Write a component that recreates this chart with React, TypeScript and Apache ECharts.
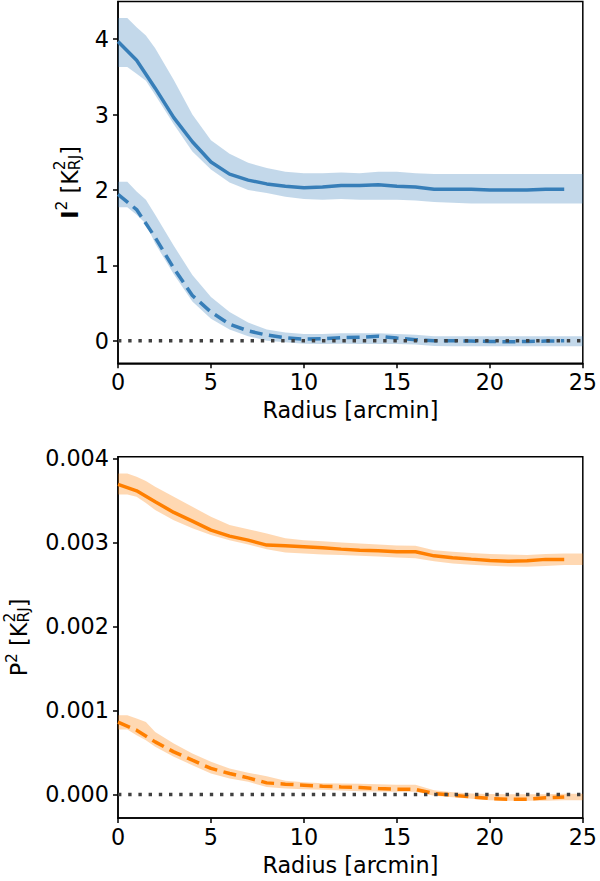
import React, { useEffect, useRef } from 'react';
import * as echarts from 'echarts';

// ---- data ----
const radius = [0, 1, 2, 3, 4, 5, 6, 7, 8, 9, 10, 11, 12, 13, 14, 15, 16, 17, 18, 19, 20, 21, 22, 23, 24];
const bandRadius = [0, 0.5, 1, 1.5, 2, 3, 4, 5, 6, 7, 8, 9, 10, 11, 12, 13, 14, 15, 16, 17, 18, 19, 20, 21, 22, 23, 24, 25];

const i2Total = [3.97, 3.72, 3.35, 2.96, 2.64, 2.37, 2.21, 2.13, 2.08, 2.05, 2.03, 2.04, 2.06, 2.06, 2.07, 2.05, 2.04, 2.01, 2.01, 2.01, 2.0, 2.0, 2.0, 2.01, 2.01];
const i2Dashed = [1.94, 1.74, 1.37, 0.96, 0.6, 0.38, 0.22, 0.13, 0.075, 0.04, 0.02, 0.025, 0.04, 0.045, 0.06, 0.035, 0.013, 0.0, 0.0, -0.005, -0.01, -0.015, -0.01, -0.005, 0.0];
const i2TotalHigh = [4.28, 4.28, 4.16, 4.05, 3.88, 3.46, 3.0, 2.66, 2.48, 2.36, 2.29, 2.24, 2.22, 2.22, 2.23, 2.22, 2.24, 2.24, 2.22, 2.21, 2.21, 2.21, 2.21, 2.21, 2.21, 2.21, 2.21, 2.21];
const i2TotalLow = [3.63, 3.63, 3.54, 3.45, 3.26, 2.87, 2.51, 2.27, 2.1, 2.0, 1.96, 1.91, 1.88, 1.87, 1.88, 1.87, 1.87, 1.87, 1.86, 1.84, 1.83, 1.82, 1.82, 1.82, 1.82, 1.82, 1.82, 1.82];
const i2DashedHigh = [2.11, 2.11, 1.98, 1.87, 1.67, 1.26, 0.87, 0.58, 0.38, 0.24, 0.15, 0.11, 0.09, 0.09, 0.1, 0.1, 0.1, 0.09, 0.08, 0.06, 0.06, 0.06, 0.06, 0.06, 0.06, 0.06, 0.06, 0.06];
const i2DashedLow = [1.77, 1.77, 1.67, 1.55, 1.29, 0.88, 0.52, 0.29, 0.15, 0.06, 0.0, -0.02, -0.04, -0.045, -0.04, -0.045, -0.045, -0.045, -0.05, -0.07, -0.075, -0.075, -0.075, -0.075, -0.075, -0.075, -0.075, -0.075];

const p2Total = [0.00369, 0.003614, 0.003483, 0.003357, 0.003254, 0.003146, 0.003075, 0.003027, 0.002968, 0.00296, 0.002948, 0.002936, 0.00292, 0.002908, 0.0029, 0.002888, 0.002888, 0.00284, 0.002817, 0.002801, 0.002786, 0.002777, 0.002781, 0.002798, 0.002798];
const p2Dashed = [0.000861, 0.000765, 0.000626, 0.000507, 0.000408, 0.00031, 0.00025, 0.000198, 0.000138, 0.000123, 0.000111, 0.000099, 0.00009, 0.000083, 0.000071, 0.000063, 0.00006, 0.000012, -0.000008, -0.000029, -0.000048, -0.000056, -0.000056, -0.00004, -0.000029];
const p2TotalHigh = [0.003821, 0.003821, 0.003781, 0.00373, 0.003662, 0.003543, 0.003424, 0.003305, 0.003206, 0.003158, 0.003107, 0.003048, 0.003027, 0.003015, 0.003, 0.002988, 0.002974, 0.002962, 0.00296, 0.002908, 0.002888, 0.002873, 0.002861, 0.002855, 0.002849, 0.002861, 0.002869, 0.002869];
const p2TotalLow = [0.003571, 0.003571, 0.003543, 0.003468, 0.003385, 0.003265, 0.003167, 0.003087, 0.003027, 0.002976, 0.00292, 0.002881, 0.002869, 0.002857, 0.002849, 0.00284, 0.002831, 0.002819, 0.00281, 0.002777, 0.00275, 0.002735, 0.002721, 0.002714, 0.00271, 0.002718, 0.00273, 0.00273];
const p2DashedHigh = [0.000944, 0.000944, 0.000905, 0.000864, 0.000745, 0.000607, 0.000488, 0.000389, 0.00031, 0.000258, 0.000218, 0.000162, 0.000146, 0.000135, 0.000131, 0.000129, 0.000123, 0.000117, 0.000117, 0.00005, 0.000025, 0.000012, 0.000006, 0.000004, 0.000004, 0.000004, 0.00001, 0.00001];
const p2DashedLow = [0.000774, 0.000774, 0.000706, 0.000646, 0.000567, 0.000448, 0.000349, 0.00025, 0.00019, 0.00015, 0.00009, 0.000071, 0.000063, 0.000055, 0.000048, 0.000039, 0.000036, 0.000033, 0.000033, -0.000014, -0.000032, -0.00005, -0.000068, -0.000076, -0.000076, -0.000074, -0.000068, -0.000068];

const zeroLineX = [0, 25];
const zeroLineY = [0, 0];

const xTicks = [0, 5, 10, 15, 20, 25];
const i2Ticks = [0, 1, 2, 3, 4];
const p2Ticks = [0, 0.001, 0.002, 0.003, 0.004];

// ---- style ----
const FONT = "'DejaVu Sans', sans-serif";
const MAIN = 22.3;
const SMALL = 15.6;
const BLUE = '#377eb8';
const ORANGE = '#ff7f00';
const BLUE_BAND = 'rgba(55,126,184,0.3)';
const ORANGE_BAND = 'rgba(255,127,0,0.3)';
const ZERO = '#404040';

const pair = (xs: number[], ys: number[]) => xs.map((x, i) => [x, ys[i]]);

function bandSeries(idx: number, lo: number[], hi: number[], color: string) {
  return {
    type: 'custom',
    xAxisIndex: idx,
    yAxisIndex: idx,
    silent: true,
    z: 1,
    data: bandRadius.map((x, i) => [x, lo[i], hi[i]]),
    encode: { x: 0, y: [1, 2] },
    renderItem: (params: any, api: any) => {
      if (params.dataIndex !== 0) return null;
      const pts: number[][] = [];
      for (let i = 0; i < bandRadius.length; i++) pts.push(api.coord([bandRadius[i], hi[i]]));
      for (let i = bandRadius.length - 1; i >= 0; i--) pts.push(api.coord([bandRadius[i], lo[i]]));
      return { type: 'polygon', shape: { points: pts }, style: { fill: color, stroke: null } };
    },
  };
}

function lineSeries(idx: number, ys: number[], color: string, dashed: boolean) {
  return {
    type: 'line',
    xAxisIndex: idx,
    yAxisIndex: idx,
    data: pair(radius, ys),
    symbol: 'none',
    silent: true,
    z: 3,
    lineStyle: { color, width: 3.5, type: dashed ? [13, 6.5] : 'solid', cap: 'butt' },
  };
}

function zeroSeries(idx: number) {
  return {
    type: 'line',
    xAxisIndex: idx,
    yAxisIndex: idx,
    data: pair(zeroLineX, zeroLineY),
    symbol: 'none',
    silent: true,
    z: 4,
    lineStyle: { color: ZERO, width: 3.4, type: [3.4, 6.8], cap: 'butt' },
  };
}

const W: Record<string, number> = { I: 0.372, P: 0.603, '2': 0.636, ' ': 0.318, '[': 0.39, ']': 0.39, K: 0.656, R: 0.695, J: 0.295 };
const tw = (s: string, size: number) => s.split('').reduce((a, c) => a + (W[c] || 0.6) * size, 0);

function yLabel(first: string, bold: boolean, cx: number, cy: number) {
  const wFirst = tw(first, MAIN);
  const wSup = tw('2', SMALL);
  const wSpace = tw(' ', MAIN);
  const wBK = tw('[K', MAIN);
  const wRJ = tw('RJ', SMALL);
  const wBr = tw(']', MAIN);
  const total = wFirst + wSup + wSpace + wBK + wRJ + wBr;
  let s = cy + total / 2;
  const mk = (text: string, size: number, dx: number, pos: number, weight = 'normal') => ({
    type: 'text',
    x: cx + dx,
    y: pos,
    rotation: Math.PI / 2,
    silent: true,
    style: {
      text,
      fontSize: size,
      fontFamily: FONT,
      fontWeight: weight,
      fill: '#000',
      align: 'left',
      verticalAlign: 'middle',
      textAlign: 'left',
      textVerticalAlign: 'middle',
    },
  });
  const els: any[] = [];
  els.push(mk(first, MAIN, 0, s, bold ? 'bold' : 'normal'));
  s -= wFirst;
  els.push(mk('2', SMALL, -7.5, s));
  s -= wSup + wSpace;
  els.push(mk('[K', MAIN, 0, s));
  s -= wBK;
  els.push(mk('2', SMALL, -9.5, s));
  els.push(mk('RJ', SMALL, 5, s));
  s -= wRJ;
  els.push(mk(']', MAIN, 0, s));
  return els;
}

function xAxisCfg(idx: number) {
  return {
    type: 'value',
    gridIndex: idx,
    min: 0,
    max: 25,
    interval: 5,
    name: 'Radius [arcmin]',
    nameLocation: 'middle',
    nameGap: 36,
    nameTextStyle: { fontFamily: FONT, fontSize: MAIN, color: '#000' },
    axisLine: { show: true, onZero: false, lineStyle: { color: '#000', width: 1.5 } },
    axisTick: { show: true, length: 5, lineStyle: { color: '#000', width: 1.5 }, customValues: xTicks },
    axisLabel: { fontFamily: FONT, fontSize: MAIN, color: '#000', margin: 8, customValues: xTicks },
    splitLine: { show: false },
  };
}

function yAxisCfg(idx: number, min: number, max: number, ticks: number[], fmt: (v: number) => string) {
  return {
    type: 'value',
    gridIndex: idx,
    min,
    max,
    axisLine: { show: true, onZero: false, lineStyle: { color: '#000', width: 1.5 } },
    axisTick: { show: true, length: 5, lineStyle: { color: '#000', width: 1.5 }, customValues: ticks },
    axisLabel: { fontFamily: FONT, fontSize: MAIN, color: '#000', margin: 9, customValues: ticks, formatter: fmt },
    splitLine: { show: false },
  };
}

export default function App() {
  const ref = useRef<HTMLDivElement>(null);
  useEffect(() => {
    if (!ref.current) return;
    const chart = echarts.init(ref.current, undefined, { renderer: 'svg' });
    const option: any = {
      animation: false,
      backgroundColor: '#ffffff',
      grid: [
        { left: 118, top: 1.5, width: 465.3, height: 361.8, show: true, borderColor: '#000', borderWidth: 1.5, backgroundColor: 'transparent' },
        { left: 118, top: 456.7, width: 465.3, height: 361.3, show: true, borderColor: '#000', borderWidth: 1.5, backgroundColor: 'transparent' },
      ],
      xAxis: [xAxisCfg(0), xAxisCfg(1)],
      yAxis: [
        yAxisCfg(0, -0.3, 4.5, i2Ticks, (v: number) => String(Math.round(v))),
        yAxisCfg(1, -0.00028, 0.00402, p2Ticks, (v: number) => v.toFixed(3)),
      ],
      series: [
        bandSeries(0, i2TotalLow, i2TotalHigh, BLUE_BAND),
        bandSeries(0, i2DashedLow, i2DashedHigh, BLUE_BAND),
        lineSeries(0, i2Total, BLUE, false),
        lineSeries(0, i2Dashed, BLUE, true),
        zeroSeries(0),
        bandSeries(1, p2TotalLow, p2TotalHigh, ORANGE_BAND),
        bandSeries(1, p2DashedLow, p2DashedHigh, ORANGE_BAND),
        lineSeries(1, p2Total, ORANGE, false),
        lineSeries(1, p2Dashed, ORANGE, true),
        zeroSeries(1),
      ],
      graphic: [...yLabel('I', true, 69.5, 182.4), ...yLabel('P', false, 19, 637.4)],
    };
    chart.setOption(option);
    return () => chart.dispose();
  }, []);
  return <div ref={ref} style={{ position: 'fixed', left: 0, top: 0, width: 600, height: 881 }} />;
}
